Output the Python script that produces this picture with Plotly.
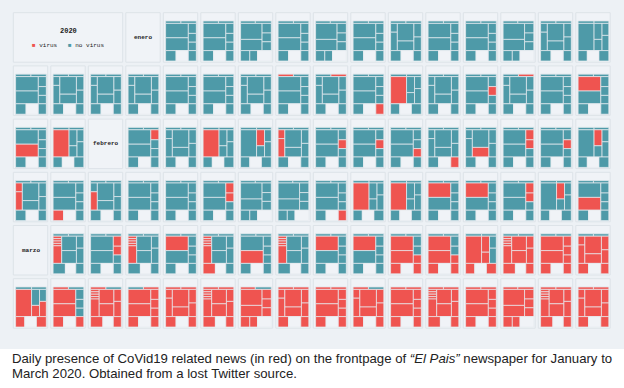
import plotly.graph_objects as go

# ---------------- data ----------------
MONTH_LABELS = ["enero", "febrero", "marzo"]
LEGEND_TITLE = "2020"
LEGEND_LABELS = ["virus", "no virus"]
CAPTION_1 = ("Daily presence of CoVid19 related news (in red) on the frontpage of "
             "<i>\u201cEl Pais\u201d</i> newspaper for January to")
CAPTION_2 = "March 2020. Obtained from a lost Twitter source."

# front-page templates: rows of (row share, columns of (col share, blocks of (code, share)))
LAYOUTS = {
    "A": [(6, [(50, [("ml", 1)]), (50, [("mr", 1)])]),
          (68, [(74, [("a", 36), ("b", 32)]), (26, [("r1", 25), ("r2", 22), ("r3", 21)])]),
          (26, [(34, [("bl", 1)]), (40, [("ad", 1)]), (26, [("br", 1)])])],
    "B": [(6, [(52, [("ml", 1)]), (48, [("mr", 1)])]),
          (68, [(52, [("a", 1)]), (26, [("b", 40), ("c", 28)]), (22, [("r1", 30), ("r2", 38)])]),
          (26, [(30, [("bl", 1)]), (38, [("ad", 1)]), (32, [("br", 1)])])],
    "C": [(6, [(50, [("ml", 1)]), (50, [("mr", 1)])]),
          (68, [(22, [("l1", 22), ("l2", 46)]), (54, [("a", 44), ("b", 24)]), (24, [("r1", 34), ("r2", 34)])]),
          (26, [(34, [("bl", 1)]), (40, [("ad", 1)]), (26, [("br", 1)])])],
    "D": [(6, [(48, [("ml", 1)]), (52, [("mr", 1)])]),
          (68, [(70, [("a", 40), ("b", 28)]), (30, [("r1", 24), ("r2", 22), ("r3", 22)])]),
          (26, [(30, [("bl", 1)]), (25, [("bm", 1)]), (45, [("ad", 1)])])],
    "E": [(6, [(50, [("ml", 1)]), (50, [("mr", 1)])]),
          (68, [(28, [("s1", 6), ("s2", 6), ("s3", 6), ("s4", 6), ("l1", 44)]),
                (48, [("a", 36), ("b", 32)]), (24, [("r1", 30), ("r2", 38)])]),
          (26, [(40, [("bl", 1)]), (34, [("ad", 1)]), (26, [("br", 1)])])],
}

JAN_LAYOUT = "AADADACAADCB" + "ACCCAACACABCACAA" + "AB"
JAN_RED = ([""] * 12
           + ["", "", "", "", "", "", "", "ml", "mr", "br", "a", "", "r2", "mr", "", "a"]
           + ["b", "a"])
FEB_LAYOUT = "ACBBCAAACCAAB" + "CACAAADDABBAAABA"
FEB_RED = (["r1", "", "a", "b", "l1 l2", "r2", "r2", "r3", "br", "b", "r1 r2", "r2", "b"]
           + ["l1 l2", "bl", "l2", "", "", "r1 r2", "", "", "br", "a", "a", "a", "a", "r1 r2", "b", "b"])
MAR_LAYOUT = "EAEAEAEAAAABEAC" + "BAEACEDCACAEADEC"
MAR_RED = (["s1 s2 s3 s4 l1", "r1 r2", "s1 s2 s3 s4 l1", "a", "s1 s2 s3 s4 l1 bl", "b",
            "s1 s2 s3 s4 l1", "a", "a", "*-ml-mr-r1-r2", "*-ml-mr-r1-r2", "*-ml-mr-r1-r2",
            "*-ml-mr", "*-ml-mr", "*-ml-mr"]
           + ["*-ml-mr-b-r1", "*-mr-r1-r2-r3", "*-mr", "*-ml", "*", "*", "*-mr", "*",
              "*", "*-mr", "*", "*", "*", "*", "*", "*"])
MONTHS = [(JAN_LAYOUT, JAN_RED), (FEB_LAYOUT, FEB_RED), (MAR_LAYOUT, MAR_RED)]

# ---------------- style ----------------
W, H = 624, 388
TEAL, RED = "#4e9aa8", "#ef5450"
BG, BOX, BOXLINE, GAP = "#edf1f5", "#f0f3f7", "#dde3e8", "#e8edf1"
N_COLS = 16
X0, DX, BW = 13.3, 37.5, 34.4
Y0, DY, BH = 12.7, 53.2, 49.5
MONO = "Liberation Mono"


def px(x):
    return x / W


def py(y):
    return 1 - y / H


fig = go.Figure()
shapes = [dict(type="rect", xref="paper", yref="paper", x0=0, x1=1, y0=py(349), y1=1,
               fillcolor=BG, line=dict(width=0), layer="below")]
annotations = []


def box(slot, span=1):
    r, c = divmod(slot, N_COLS)
    x0 = X0 + c * DX
    x1 = x0 + (span - 1) * DX + BW
    y0 = Y0 + r * DY
    y1 = y0 + BH
    shapes.append(dict(type="rect", xref="paper", yref="paper", x0=px(x0), x1=px(x1),
                       y0=py(y1), y1=py(y0), fillcolor=BOX,
                       line=dict(color=BOXLINE, width=1), layer="below"))
    return x0, y0, x1, y1


def red_set(spec, codes):
    if spec.startswith("*"):
        excl = set(spec.split("-")[1:])
        return {c for c in codes if c not in excl and c != "ad"}
    return set(spec.split())


def add_page(key, spec, x0, y0):
    rows = LAYOUTS[key]
    codes = [b[0] for _, cols in rows for _, blks in cols for b in blks]
    reds = red_set(spec, codes)
    ids, parents, values, colors = ["page"], [""], [0], [BOX]
    for ri, (rh, cols) in enumerate(rows):
        rid = f"row{ri}"
        ids.append(rid); parents.append("page"); values.append(0); colors.append(BOX)
        for ci, (cw, blks) in enumerate(cols):
            cid = f"{rid}col{ci}"
            ids.append(cid); parents.append(rid); values.append(0); colors.append(BOX)
            tot = sum(s for _, s in blks)
            for code, s in blks:
                ids.append("blk_" + code); parents.append(cid); values.append(rh * cw * s / tot)
                colors.append(BOX if code == "ad" else (RED if code in reds else TEAL))
    cx0, cx1 = x0 + 2.3, x0 + 33.0
    cy0, cy1 = y0 + 8.3, y0 + 48.3
    fig.add_trace(go.Treemap(
        ids=ids, labels=ids, parents=parents, values=values,
        branchvalues="remainder", sort=False,
        marker=dict(colors=colors, line=dict(color=GAP, width=0.7),
                    pad=dict(t=0, l=0, r=0, b=0), depthfade=False),
        tiling=dict(packing="dice-slice", pad=0),
        pathbar=dict(visible=False), textinfo="none", hoverinfo="skip",
        domain=dict(x=[px(cx0), px(cx1)], y=[py(cy1), py(cy0)]),
    ))


def label(x, y, text, size, family=MONO, anchor="center"):
    annotations.append(dict(x=px(x), y=py(y), xref="paper", yref="paper", text=text,
                            showarrow=False, xanchor=anchor, yanchor="middle",
                            font=dict(family=family, size=size, color="#222")))


# legend box
lx0, ly0, lx1, ly1 = box(0, span=3)
label((lx0 + lx1) / 2, 31, f"<b>{LEGEND_TITLE}</b>", 7)
label((lx0 + lx1) / 2, 45,
      f'<span style="color:{RED}">\u25a0</span> {LEGEND_LABELS[0]}   '
      f'<span style="color:{TEAL}">\u25a0</span> {LEGEND_LABELS[1]}', 6)

slot = 3
for (lay, reds), month in zip(MONTHS, MONTH_LABELS):
    bx0, by0, bx1, by1 = box(slot)
    label((bx0 + bx1) / 2, (by0 + by1) / 2, f"<b>{month}</b>", 6)
    slot += 1
    for key, spec in zip(lay, reds):
        bx0, by0, _, _ = box(slot)
        add_page(key, spec, bx0, by0)
        slot += 1

label(10, 358.5, CAPTION_1, 13.2, family="Liberation Sans", anchor="left")
label(10, 373, CAPTION_2, 13.2, family="Liberation Sans", anchor="left")

fig.update_layout(width=W, height=H, margin=dict(l=0, r=0, t=0, b=0),
                  paper_bgcolor="white", plot_bgcolor="white",
                  shapes=shapes, annotations=annotations, showlegend=False)
fig.write_html("out.html")
